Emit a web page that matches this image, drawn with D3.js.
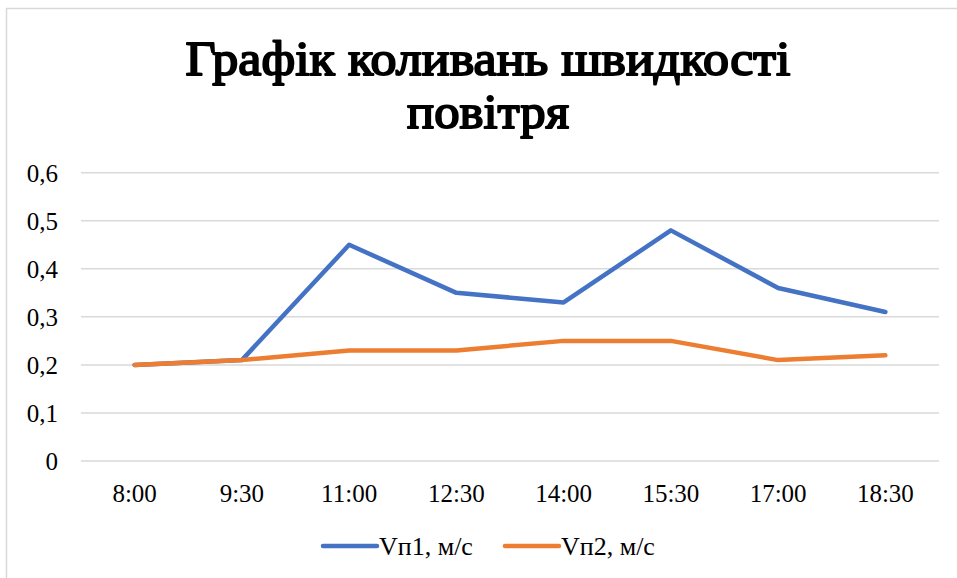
<!DOCTYPE html>
<html>
<head>
<meta charset="utf-8">
<script src="https://cdn.jsdelivr.net/npm/d3@7"></script>
</head>
<body style="margin:0">
<svg id="chart" width="957" height="578" font-family="Liberation Serif" style="display:block"></svg>
<script>
// Measurement times and air-velocity readings (m/s)
const times = ["8:00", "9:30", "11:00", "12:30", "14:00", "15:30", "17:00", "18:30"];
const vp1 = [0.20, 0.21, 0.45, 0.35, 0.33, 0.48, 0.36, 0.31];
const vp2 = [0.20, 0.21, 0.23, 0.23, 0.25, 0.25, 0.21, 0.22];
const seriesNames = ["Vп1, м/с", "Vп2, м/с"];
const seriesColors = ["#4472C4", "#ED7D31"];
const yTicks = [0, 0.1, 0.2, 0.3, 0.4, 0.5, 0.6];
const titleLines = ["Графік коливань швидкості", "повітря"];

const svg = d3.select("#chart");
const W = 957, H = 578;
const serifFace = "Liberation Serif";

// Chart frame
svg.append("path")
  .attr("d", `M6.5,${H} L6.5,8.5 L${W},8.5`)
  .attr("fill", "none")
  .attr("stroke", "#d9d9d9")
  .attr("stroke-width", 1.5);

// Title: condensed heavy serif (weight built from a stroked outline)
const titleWidths = [605, 162];
const titleBase = [75, 128];
titleLines.forEach((t, i) => {
  svg.append("text")
    .attr("x", 488)
    .attr("y", titleBase[i])
    .attr("text-anchor", "middle")
    .style("font-family", serifFace)
    .style("font-weight", "normal")
    .attr("font-size", 48)
    .attr("textLength", titleWidths[i])
    .attr("lengthAdjust", "spacingAndGlyphs")
    .attr("fill", "#000")
    .attr("stroke", "#000")
    .attr("stroke-width", 1.9)
    .attr("stroke-linejoin", "round")
    .text(t);
});

const plot = { left: 81, right: 939, top: 172.7, bottom: 461 };

const x = d3.scaleBand().domain(times).range([plot.left, plot.right]);
const y = d3.scaleLinear().domain([0, 0.6]).range([plot.bottom, plot.top]);

// Horizontal gridlines
svg.append("g")
  .selectAll("line")
  .data(yTicks)
  .join("line")
  .attr("x1", plot.left)
  .attr("x2", plot.right)
  .attr("y1", d => y(d))
  .attr("y2", d => y(d))
  .attr("stroke", "#d9d9d9")
  .attr("stroke-width", 1.5);

// Y axis labels (comma decimal separator)
const fmtY = d => d === 0 ? "0" : d3.format(".1f")(d).replace(".", ",");
const yAxis = d3.axisLeft(y).tickValues(yTicks).tickFormat(fmtY).tickSize(0).tickPadding(0);
const gy = svg.append("g").attr("transform", "translate(58,0)").call(yAxis);
gy.attr("font-family", serifFace).attr("font-size", 25);
gy.select(".domain").remove();
gy.selectAll("text")
  .style("font-family", serifFace)
  .attr("fill", "#000")
  .attr("dy", "0.34em");

// X axis labels
const xAxis = d3.axisBottom(x).tickSize(0).tickPadding(0);
const gx = svg.append("g").attr("transform", `translate(0,${plot.bottom})`).call(xAxis);
gx.attr("font-family", serifFace).attr("font-size", 25);
gx.select(".domain").remove();
gx.selectAll("text")
  .style("font-family", serifFace)
  .attr("fill", "#000")
  .attr("dy", 0)
  .attr("y", 41);

// Series lines
const line = d3.line()
  .x((d, i) => x(times[i]) + x.bandwidth() / 2)
  .y(d => y(d));

[vp1, vp2].forEach((s, i) => {
  svg.append("path")
    .datum(s)
    .attr("d", line)
    .attr("fill", "none")
    .attr("stroke", seriesColors[i])
    .attr("stroke-width", 4.5)
    .attr("stroke-linejoin", "round")
    .attr("stroke-linecap", "round");
});

// Legend
const legendX = [323, 505];
seriesNames.forEach((name, i) => {
  const g = svg.append("g").attr("transform", `translate(${legendX[i]},546)`);
  g.append("line")
    .attr("x1", 0).attr("x2", 54)
    .attr("y1", 0).attr("y2", 0)
    .attr("stroke", seriesColors[i])
    .attr("stroke-width", 4.5)
    .attr("stroke-linecap", "round");
  g.append("text")
    .attr("x", 56)
    .attr("y", 9)
    .style("font-family", serifFace)
    .attr("font-size", 26)
    .attr("fill", "#000")
    .text(name);
});
</script>
</body>
</html>
